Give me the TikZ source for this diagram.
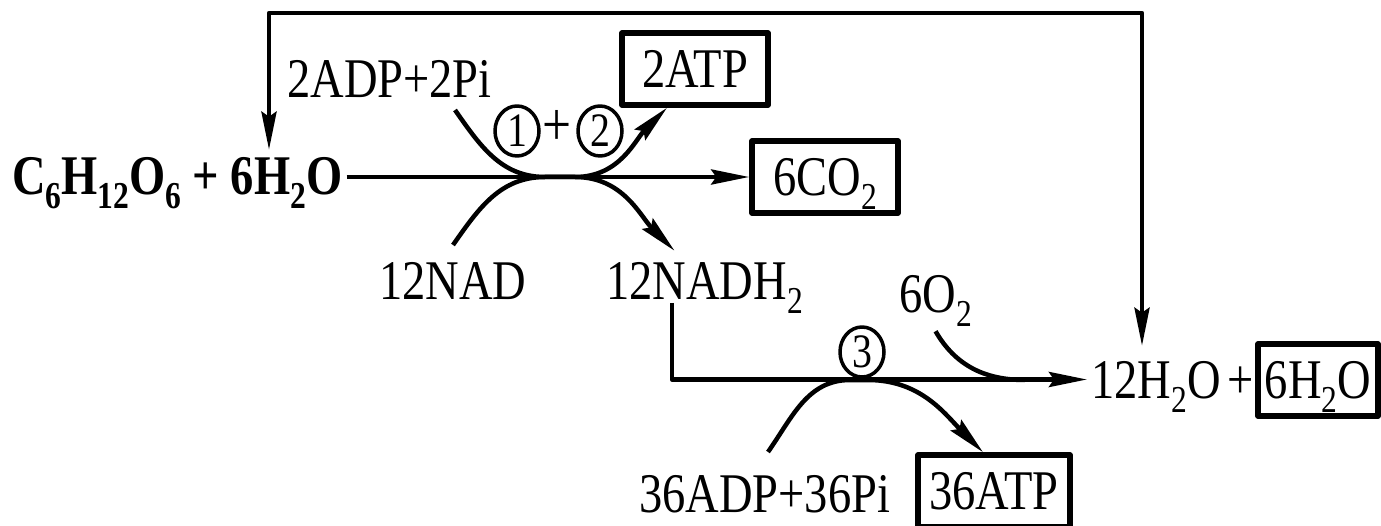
\documentclass[tikz,border=0pt]{standalone}
\usepackage{fontspec}
\setmainfont{Liberation Serif}[FakeStretch=0.83]
\usetikzlibrary{arrows.meta,shapes.geometric}
\tikzset{lbl/.style={inner sep=2pt,text height=37pt,text depth=0pt},
  prod/.style={lbl,draw,line width=5.5pt,minimum height=72pt,inner sep=0pt},
  stage/.style={draw,ellipse,line width=3.5pt,inner sep=0pt,minimum width=44pt,minimum height=50pt,font=\fontsize{48}{48}\selectfont}}
\newcommand\sbs[1]{\raisebox{-14pt}{\fontsize{38}{38}\selectfont #1}}
\begin{document}
\begin{tikzpicture}[x=1pt,y=-1pt,>={Stealth[length=38pt,width=15pt,inset=5pt]},line width=4.5pt,line join=round,font=\fontsize{56}{60}\selectfont]
\useasboundingbox (0,0) rectangle (1381,526);
% --- compounds
\node[lbl,anchor=base west] (glc) at (8,195) {\bfseries C\sbs{6}H\sbs{12}O\sbs{6} + 6H\sbs{2}O};
\node[lbl,anchor=base west] (adp) at (283,98) {2ADP+2Pi};
\node[prod,minimum width=146pt] (atpa) at (695,69) {2ATP};
\node[prod,minimum width=146pt] (coa) at (825,177) {6CO\sbs{2}};
\node[lbl,anchor=base west] (nad) at (375,300) {12NAD};
\node[lbl,anchor=base west] (nadh) at (602,300) {12NADH\sbs{2}};
\node[lbl,anchor=base west] (oxy) at (895,313) {6O\sbs{2}};
\node[lbl,anchor=base west] (wat) at (1087,398) {12H\sbs{2}O\hspace{7pt}+};
\node[prod,minimum width=120pt] (wpb) at (1318,380) {6H\sbs{2}O};
\node[lbl,anchor=base west] (adpb) at (635,512) {36ADP+36Pi};
\node[prod,minimum width=152pt] (atpb) at (994,491) {36ATP};
% --- stages
\node[stage] (s1) at (517,131) {1}; \node[font=\fontsize{62}{62}\selectfont] (pl) at (557,128) {+}; \node[stage] (s2) at (600,131) {2};
\node[stage] (s3) at (862,352) {3};
% --- loop over the top
\coordinate (tl) at (269,13); \coordinate (tr) at (1142,13);
\draw[<->,shorten <=4pt,shorten >=11pt] (glc.north -| tl) |- (tr) -- (wat.north -| tr);
% --- stage 1+2
\draw[->] (glc.east |- coa) -- (coa);
\coordinate (u1) at (455,110); \coordinate (l1) at (453,245); \coordinate (k1) at (545,177); \coordinate (k2) at (575,177);
\draw[->] (u1) to[out=-55,in=180] (k1) -- (k2) to[out=0,in=225] ([xshift=-28pt]atpa.south);
\draw[->] (l1) to[out=55,in=180] (k1) -- (k2) to[out=0,in=135] ([xshift=-30pt,yshift=8pt]nadh.north);
% --- stage 3
\coordinate (n3) at (672,303); \draw[->] (n3) |- (wat.west);
\coordinate (l3) at (768,452); \coordinate (k3) at (850,380); \coordinate (k4) at (868,380); \coordinate (k5) at (1025,380);
\draw[->] (l3) to[out=55,in=180] (k3) -- (k4) to[out=0,in=135] ([xshift=-11pt]atpb.north);
\draw ([yshift=-14pt]oxy.south) to[out=-60,in=180] (k5);
\end{tikzpicture}
\end{document}
